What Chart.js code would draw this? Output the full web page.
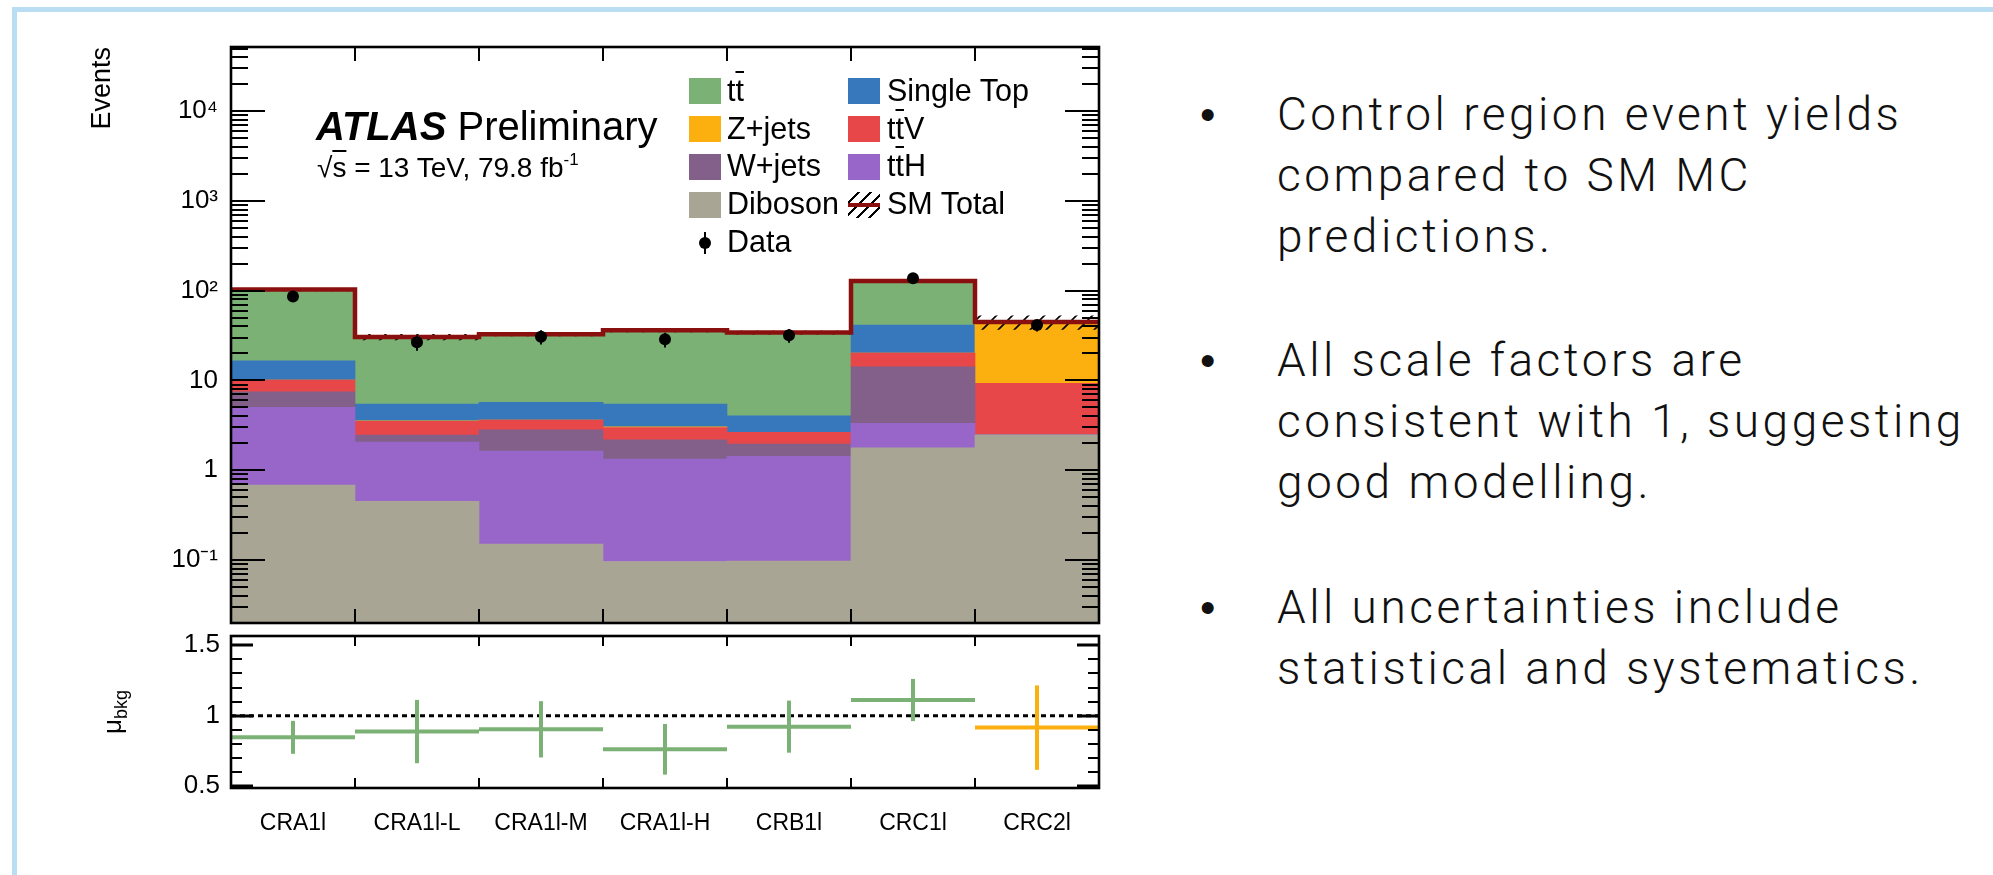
<!DOCTYPE html>
<html>
<head>
<meta charset="utf-8">
<title>Control region yields</title>
<script src="https://cdn.jsdelivr.net/npm/chart.js@4.4.1/dist/chart.umd.min.js"></script>
<style>
  html, body { margin: 0; padding: 0; background: #fff; }
  body { width: 1993px; height: 875px; position: relative; overflow: hidden;
         font-family: 'Liberation Sans', Arial, Helvetica, sans-serif; color: #000; }
  .edge { position: absolute; background: #b9def3; }
  canvas { position: absolute; left: 0; }
  #main { top: 0; }
  #ratio { top: 625px; }
  .lab { position: absolute; white-space: nowrap; line-height: 1; }
  .ob { text-decoration: overline; text-decoration-thickness: 2px; }
  .sw { position: absolute; width: 32px; height: 26px; }
  .note { position: absolute; left: 1277px; white-space: nowrap; font-size: 46px; line-height: 61px; letter-spacing: 3.5px;
          font-family: 'Helvetica Neue', Roboto, 'Liberation Sans', sans-serif; font-weight: 300; color: #111; }
  .note .b { position: absolute; left: -77px; font-size: 44px; font-family: 'Liberation Sans', Arial, sans-serif; font-weight: 400; letter-spacing: 0; }
</style>
</head>
<body>
<div class="edge" style="left:12px;top:7px;width:1981px;height:5px"></div>
<div class="edge" style="left:12px;top:7px;width:5px;height:868px"></div>

<canvas id="main" width="1130" height="640"></canvas>
<canvas id="ratio" width="1130" height="250"></canvas>

<div class="lab" style="left:316px;top:106px;font-size:40px"><b><i>ATLAS</i></b> Preliminary</div>
<div class="lab" style="left:317px;top:154px;font-size:28px">√<span class="ob" style="text-decoration-thickness:1.5px">s</span> = 13 TeV, 79.8 fb<span style="font-size:17px;position:relative;top:-12px">-1</span></div>
<div id="legend"></div>

<div class="note" style="top:84px"><span class="b">•</span>Control region event yields<br>compared to SM MC<br>predictions.</div>
<div class="note" style="top:330px"><span class="b">•</span>All scale factors are<br>consistent with 1, suggesting<br>good modelling.</div>
<div class="note" style="top:577px"><span class="b">•</span>All uncertainties include<br>statistical and systematics.</div>

<script>
// control regions
const regions = ['CRA1l', 'CRA1l-L', 'CRA1l-M', 'CRA1l-H', 'CRB1l', 'CRC1l', 'CRC2l'];

// MC yields per process (stack order bottom -> top)
const diboson   = [0.68, 0.45, 0.15, 0.096, 0.097, 1.77, 2.48];
const ttH       = [4.32, 1.60, 1.48, 1.23, 1.33, 1.55, 0];
const wjets     = [2.48, 0.41, 1.19, 0.85, 0.52, 10.9, 0];
const ttV       = [2.62, 1.03, 0.79, 0.81, 0.70, 6.0, 6.81];
const zjets     = [0, 0.06, 0, 0.06, 0, 0, 35.6];
const singleTop = [6.4, 1.90, 2.08, 2.40, 1.39, 21.3, 0];
const ttbar     = [86.5, 25.0, 27.0, 30.9, 30.1, 87.1, 0];

// relative uncertainty on the SM total
const totalRelErr = [0.04, 0.08, 0.05, 0.05, 0.05, 0.05, 0.18];

// observed data
const dataYield = [86, 26.6, 30.7, 28.7, 31.9, 138, 41.5];
const dataErr   = [9.3, 5.2, 5.5, 5.4, 5.6, 11.7, 6.4];

// normalisation factors
const muBkg = [0.846, 0.887, 0.903, 0.761, 0.922, 1.111, 0.915];
const muErr = [0.117, 0.225, 0.20, 0.18, 0.185, 0.15, 0.30];

// tick labels
const yTickValues = [0.1, 1, 10, 100, 1000, 10000];
const yTickLabels = ['10\u207B\u00B9', '1', '10', '10\u00B2', '10\u00B3', '10\u2074'];
const muTickValues = [0.5, 1, 1.5];
const muTickLabels = ['0.5', '1', '1.5'];

const C = {
  ttbar: '#7bb174', singleTop: '#3778bd', zjets: '#fcb00f', ttV: '#e8474a',
  wjets: '#82608a', ttH: '#9866c8', diboson: '#a8a595', total: '#8a1010'
};
const FONT = "'Liberation Sans', Arial, Helvetica, sans-serif";
Chart.defaults.font.family = FONT;
Chart.defaults.color = '#000';

const stack = [
  { vals: diboson, color: C.diboson },
  { vals: ttH, color: C.ttH },
  { vals: wjets, color: C.wjets },
  { vals: ttV, color: C.ttV },
  { vals: zjets, color: C.zjets },
  { vals: singleTop, color: C.singleTop },
  { vals: ttbar, color: C.ttbar }
];

// hatch fill for the uncertainty band
function hatch() {
  const c = document.createElement('canvas');
  c.width = 16; c.height = 16;
  const g = c.getContext('2d');
  g.strokeStyle = '#000';
  g.lineWidth = 1.6;
  g.beginPath();
  g.moveTo(-2, 18); g.lineTo(18, -2);
  g.moveTo(-6, 6); g.lineTo(6, -6);
  g.moveTo(10, 22); g.lineTo(22, 10);
  g.stroke();
  return g.createPattern(c, 'repeat');
}

// keep the plot frame exactly where the layout padding puts it
const noPad = s => { s.paddingTop = 0; s.paddingBottom = 0; s.paddingLeft = 0; s.paddingRight = 0; };

let cum = regions.map(() => 0);
const barSets = stack.map(p => {
  const data = regions.map((r, i) => {
    const lo = cum[i] > 0 ? cum[i] : 1e-3;
    return { x: i + 0.5, y: [lo, cum[i] + p.vals[i] || lo] };
  });
  cum = cum.map((c, i) => c + p.vals[i]);
  return {
    type: 'bar', data, backgroundColor: p.color, borderWidth: 0,
    barPercentage: 1, categoryPercentage: 1, grouped: false, order: 10
  };
});
const total = cum;
const steps = arr => regions.flatMap((r, i) => [{ x: i, y: arr[i] }, { x: i + 1, y: arr[i] }]);
const bandHi = total.map((t, i) => t * (1 + totalRelErr[i]));
const bandLo = total.map((t, i) => t * (1 - totalRelErr[i]));
const clear = 'rgba(0,0,0,0)';

const mainFrame = {
  id: 'mainFrame',
  afterDatasetsDraw(chart) {
    const { ctx, chartArea: a, scales: { x, y } } = chart;
    ctx.save();
    ctx.strokeStyle = '#000';
    ctx.lineWidth = 2;
    ctx.beginPath();
    for (let d = -2; d <= 4; d++) {
      for (let k = 1; k <= 9; k++) {
        const v = k * Math.pow(10, d);
        if (v < y.min || v > y.max) continue;
        const py = Math.round(y.getPixelForValue(v));
        const len = k === 1 ? 34 : 17;
        ctx.moveTo(a.left, py); ctx.lineTo(a.left + len, py);
        ctx.moveTo(a.right, py); ctx.lineTo(a.right - len, py);
      }
    }
    for (let i = 1; i < regions.length; i++) {
      const px = Math.round(x.getPixelForValue(i));
      ctx.moveTo(px, a.top); ctx.lineTo(px, a.top + 14);
      ctx.moveTo(px, a.bottom); ctx.lineTo(px, a.bottom - 14);
    }
    ctx.stroke();
    ctx.lineWidth = 2.6;
    ctx.strokeRect(a.left, a.top, a.right - a.left, a.bottom - a.top);
    // y title
    ctx.translate(110, a.top);
    ctx.rotate(-Math.PI / 2);
    ctx.fillStyle = '#000';
    ctx.font = '27px ' + FONT;
    ctx.textAlign = 'right';
    ctx.fillText('Events', 0, 0);
    ctx.restore();
  }
};

new Chart(document.getElementById('main'), {
  type: 'line',
  data: {
    datasets: [
      ...barSets,
      { data: steps(bandHi), fill: '+1', backgroundColor: hatch(), borderColor: clear, borderWidth: 0, pointRadius: 0, order: 6 },
      { data: steps(bandLo), fill: false, borderColor: clear, borderWidth: 0, pointRadius: 0, order: 7 },
      { data: steps(total), fill: false, borderColor: C.total, borderWidth: 4.5, pointRadius: 0, borderCapStyle: 'butt', borderJoinStyle: 'miter', order: 4 },
      { data: regions.flatMap((r, i) => [{ x: i + 0.5, y: dataYield[i] - dataErr[i] }, { x: i + 0.5, y: dataYield[i] + dataErr[i] }, { x: i + 0.5, y: null }]),
        borderColor: '#000', borderWidth: 2, pointRadius: 0, spanGaps: false, order: 2 },
      { data: regions.map((r, i) => ({ x: i + 0.5, y: dataYield[i] })), showLine: false,
        pointRadius: 6, pointBackgroundColor: '#000', pointBorderWidth: 0, order: 1 }
    ]
  },
  options: {
    responsive: false, animation: false, devicePixelRatio: 1, events: [],
    layout: { padding: { left: 0, top: 47, right: 31, bottom: 17 } },
    plugins: { legend: { display: false }, tooltip: { enabled: false } },
    scales: {
      x: { type: 'linear', min: 0, max: 7, offset: false, display: false },
      y: {
        type: 'logarithmic', min: 0.0198, max: 52000,
        grid: { display: false, drawTicks: false }, border: { display: false },
        afterBuildTicks: s => { s.ticks = yTickValues.map(v => ({ value: v })); },
        afterFit: s => { s.width = 231; noPad(s); },
        ticks: { padding: 13, font: { size: 26 }, autoSkip: false, callback: (v, i) => yTickLabels[i] }
      }
    }
  },
  plugins: [mainFrame]
});

// ratio panel
const muColor = i => (i === regions.length - 1 ? C.zjets : C.ttbar);
const ratioFrame = {
  id: 'ratioFrame',
  afterDatasetsDraw(chart) {
    const { ctx, chartArea: a, scales: { x, y } } = chart;
    ctx.save();
    ctx.strokeStyle = '#000';
    for (let k = 5; k <= 15; k++) {
      const py = Math.round(y.getPixelForValue(k / 10));
      const major = k % 5 === 0;
      const len = major ? 22 : 11;
      ctx.lineWidth = major ? 3 : 2;
      ctx.beginPath();
      ctx.moveTo(a.left, py); ctx.lineTo(a.left + len, py);
      ctx.moveTo(a.right, py); ctx.lineTo(a.right - len, py);
      ctx.stroke();
    }
    ctx.lineWidth = 2;
    ctx.beginPath();
    for (let i = 1; i < regions.length; i++) {
      const px = Math.round(x.getPixelForValue(i));
      ctx.moveTo(px, a.top); ctx.lineTo(px, a.top + 10);
      ctx.moveTo(px, a.bottom); ctx.lineTo(px, a.bottom - 10);
    }
    ctx.stroke();
    ctx.lineWidth = 2.6;
    ctx.strokeRect(a.left, a.top, a.right - a.left, a.bottom - a.top);
    // y title: mu_bkg
    ctx.fillStyle = '#000';
    ctx.translate(121, (a.top + a.bottom) / 2);
    ctx.rotate(-Math.PI / 2);
    ctx.font = '26px ' + FONT;
    const w1 = ctx.measureText('\u03BC').width;
    ctx.font = '18px ' + FONT;
    const w2 = ctx.measureText('bkg').width;
    const x0 = -(w1 + w2) / 2;
    ctx.font = '26px ' + FONT;
    ctx.fillText('\u03BC', x0, 0);
    ctx.font = '18px ' + FONT;
    ctx.fillText('bkg', x0 + w1, 6);
    ctx.restore();
  }
};

new Chart(document.getElementById('ratio'), {
  type: 'line',
  data: {
    datasets: [
      { data: [{ x: 0, y: 1 }, { x: regions.length, y: 1 }], borderColor: '#000', borderWidth: 3,
        borderDash: [5, 4], pointRadius: 0, order: 5 },
      { data: regions.flatMap((r, i) => [{ x: i, y: muBkg[i] }, { x: i + 1, y: muBkg[i] }, { x: i + 1, y: null }]),
        borderColor: C.ttbar, borderWidth: 4, pointRadius: 0, spanGaps: false, borderCapStyle: 'butt',
        segment: { borderColor: c => muColor(Math.floor(c.p0DataIndex / 3)) }, order: 2 },
      { data: regions.flatMap((r, i) => [{ x: i + 0.5, y: muBkg[i] - muErr[i] }, { x: i + 0.5, y: muBkg[i] + muErr[i] }, { x: i + 0.5, y: null }]),
        borderColor: C.ttbar, borderWidth: 4, pointRadius: 0, spanGaps: false, borderCapStyle: 'butt',
        segment: { borderColor: c => muColor(Math.floor(c.p0DataIndex / 3)) }, order: 1 }
    ]
  },
  options: {
    responsive: false, animation: false, devicePixelRatio: 1, events: [],
    layout: { padding: { left: 0, top: 11, right: 31, bottom: 0 } },
    plugins: { legend: { display: false }, tooltip: { enabled: false } },
    scales: {
      x: {
        type: 'linear', min: 0, max: regions.length, offset: false,
        grid: { display: false, drawTicks: false }, border: { display: false },
        afterBuildTicks: s => { s.ticks = regions.map((r, i) => ({ value: i + 0.5 })); },
        afterFit: s => { s.height = 87; noPad(s); },
        ticks: { padding: 22, font: { size: 23 }, autoSkip: false, maxRotation: 0, minRotation: 0,
                 callback: (v, i) => regions[i] }
      },
      y: {
        type: 'linear', min: 0.486, max: 1.566,
        grid: { display: false, drawTicks: false }, border: { display: false },
        afterBuildTicks: s => { s.ticks = muTickValues.map(v => ({ value: v })); },
        afterFit: s => { s.width = 231; noPad(s); },
        ticks: { padding: 11, font: { size: 26 }, autoSkip: false, callback: (v, i) => muTickLabels[i] }
      }
    }
  },
  plugins: [ratioFrame]
});

// legend (two columns, ROOT style)
const legendItems = [
  { html: 't<span class="ob">t</span>', color: C.ttbar, col: 0, row: 0 },
  { html: 'Single Top', color: C.singleTop, col: 1, row: 0 },
  { html: 'Z+jets', color: C.zjets, col: 0, row: 1 },
  { html: 't<span class="ob">t</span>V', color: C.ttV, col: 1, row: 1 },
  { html: 'W+jets', color: C.wjets, col: 0, row: 2 },
  { html: 't<span class="ob">t</span>H', color: C.ttH, col: 1, row: 2 },
  { html: 'Diboson', color: C.diboson, col: 0, row: 3 },
  { html: 'SM Total', kind: 'total', col: 1, row: 3 },
  { html: 'Data', kind: 'data', col: 0, row: 4 }
];
const swX = [689, 848], txtX = [727, 887], rowPitch = 37.9;
const leg = document.getElementById('legend');
legendItems.forEach(it => {
  const top = 78 + it.row * rowPitch;
  let mark = '';
  if (it.kind === 'total') {
    mark = `<div class="sw" style="left:${swX[it.col]}px;top:${top}px;background:repeating-linear-gradient(135deg, transparent 0 7px, #000 7px 8.5px)"></div>` +
           `<div style="position:absolute;left:${swX[it.col]}px;top:${top + 11}px;width:32px;height:4.5px;background:${C.total}"></div>`;
  } else if (it.kind === 'data') {
    const cx = swX[it.col] + 16, cy = top + 13;
    mark = `<div style="position:absolute;left:${cx - 1}px;top:${cy - 11}px;width:2px;height:22px;background:#000"></div>` +
           `<div style="position:absolute;left:${cx - 6}px;top:${cy - 6}px;width:12px;height:12px;border-radius:50%;background:#000"></div>`;
  } else {
    mark = `<div class="sw" style="left:${swX[it.col]}px;top:${top}px;background:${it.color}"></div>`;
  }
  leg.insertAdjacentHTML('beforeend', mark +
    `<div class="lab" style="left:${txtX[it.col]}px;top:${74.6 + it.row * rowPitch}px;font-size:30.5px">${it.html}</div>`);
});
</script>
</body>
</html>
